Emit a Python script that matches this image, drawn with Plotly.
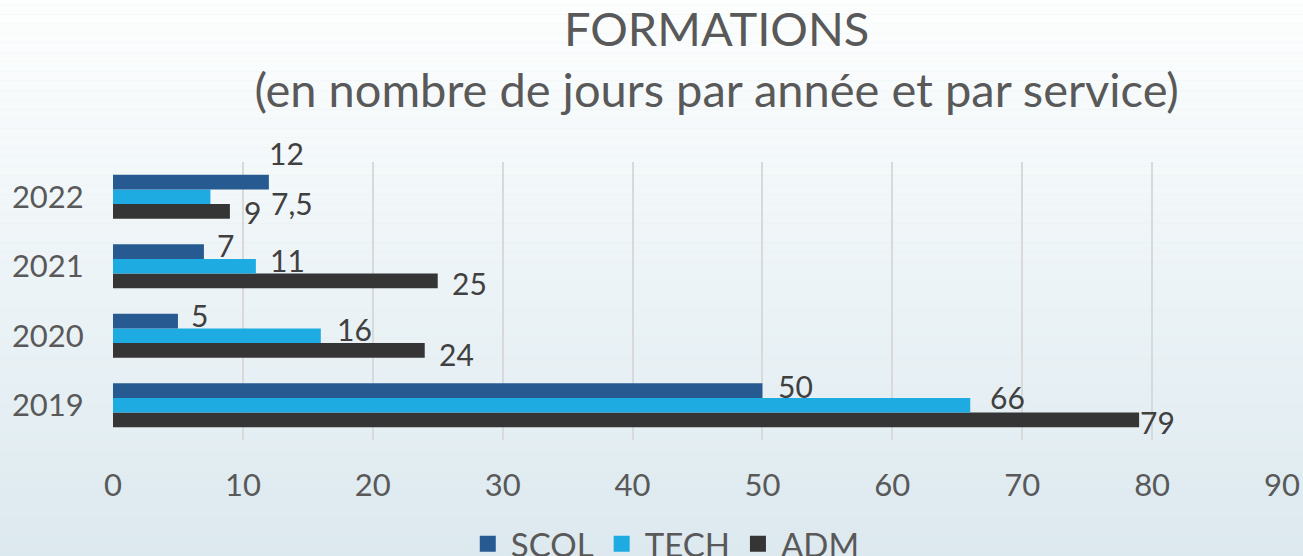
import plotly.graph_objects as go

# Données (jours de formation par année et par service)
annees = ["2019", "2020", "2021", "2022"]
scol = [50, 5, 7, 12]
tech = [66, 16, 11, 7.5]
adm = [79, 24, 25, 9]

couleurs = {"SCOL": "#265A91", "TECH": "#1DABE2", "ADM": "#353535"}

# décalage des étiquettes (px) : (xshift, yshift) par service et par année
decal = {
    "SCOL": [(33, 19), (22, 21), (22, 21), (18, 44)],
    "TECH": [(37, 8), (34, 7), (32, 6), (82, -6)],
    "ADM": [(18, -17), (32, -18), (32, -17), (23, -15)],
}


def fmt(v):
    # format français : virgule décimale
    return str(int(v)) if float(v).is_integer() else str(v).replace(".", ",")


fig = go.Figure()

# ordre inverse : plotly empile les barres groupées de bas en haut
for nom, vals in [("ADM", adm), ("TECH", tech), ("SCOL", scol)]:
    fig.add_trace(go.Bar(
        name=nom,
        x=vals,
        y=annees,
        orientation="h",
        marker=dict(color=couleurs[nom], line=dict(width=0)),
        showlegend=False,
    ))

# légende : carrés plus grands que ceux des barres
for nom in ["SCOL", "TECH", "ADM"]:
    fig.add_trace(go.Scatter(
        x=[None], y=[None], mode="markers", name=nom,
        marker=dict(symbol="square", size=17, color=couleurs[nom]),
    ))

# étiquettes : y = indice de la catégorie (les noms "2019"... seraient lus comme nombres)
for nom, vals in [("SCOL", scol), ("TECH", tech), ("ADM", adm)]:
    for i, v in enumerate(vals):
        dx, dy = decal[nom][i]
        fig.add_annotation(
            x=v, y=i, text=fmt(v), showarrow=False,
            xanchor="center", yanchor="middle",
            xshift=dx, yshift=dy,
            font=dict(family="Lato", size=30, color="#404040"),
        )

# fond en dégradé (bandes horizontales)
n = 60
haut = (253, 254, 254)
bas = (220, 233, 239)
for k in range(n):
    t = k / (n - 1)
    c = tuple(round(haut[j] + (bas[j] - haut[j]) * t) for j in range(3))
    fig.add_shape(
        type="rect", xref="paper", yref="paper", layer="below",
        x0=-0.2, x1=1.2,
        y0=1.6 - k * 2.05 / n, y1=1.6 - (k + 1) * 2.05 / n,
        fillcolor="rgb(%d,%d,%d)" % c, line=dict(width=0),
    )

fig.update_layout(
    width=1303, height=556,
    barmode="group",
    bargap=0.37,
    bargroupgap=0,
    paper_bgcolor="#DDE9EF",
    plot_bgcolor="rgba(0,0,0,0)",
    font=dict(family="Lato", color="#595959"),
    title=dict(
        text="FORMATIONS<br>(en nombre de jours par année et par service)",
        x=0.55, xanchor="center", yref="container", y=1, yanchor="top",
        pad=dict(t=46),
        font=dict(family="Lato", size=47, color="#595959"),
    ),
    margin=dict(l=113, r=21, t=162, b=116),
    legend=dict(
        orientation="h",
        x=0.472, xanchor="center",
        yref="container", y=0.022, yanchor="middle",
        bgcolor="rgba(0,0,0,0)",
        font=dict(family="Lato", size=33, color="#595959"),
        itemwidth=36,
    ),
    xaxis=dict(
        range=[0, 90], autorange=False, dtick=10, showgrid=True,
        gridcolor="#D9D9D9", gridwidth=1.5, zeroline=False,
        tickfont=dict(size=31, color="#595959"),
        ticks="outside", ticklen=18, tickcolor="rgba(0,0,0,0)",
        showline=False, automargin=False,
    ),
    yaxis=dict(
        type="category", categoryorder="array", categoryarray=annees,
        range=[-0.5, 3.5], autorange=False,
        showgrid=False, zeroline=False,
        tickfont=dict(size=31, color="#595959"),
        ticks="outside", ticklen=22, tickcolor="rgba(0,0,0,0)",
        automargin=False,
    ),
)

fig.write_html("out.html", config={"displayModeBar": False},
               post_script="document.body.style.margin='0';")
